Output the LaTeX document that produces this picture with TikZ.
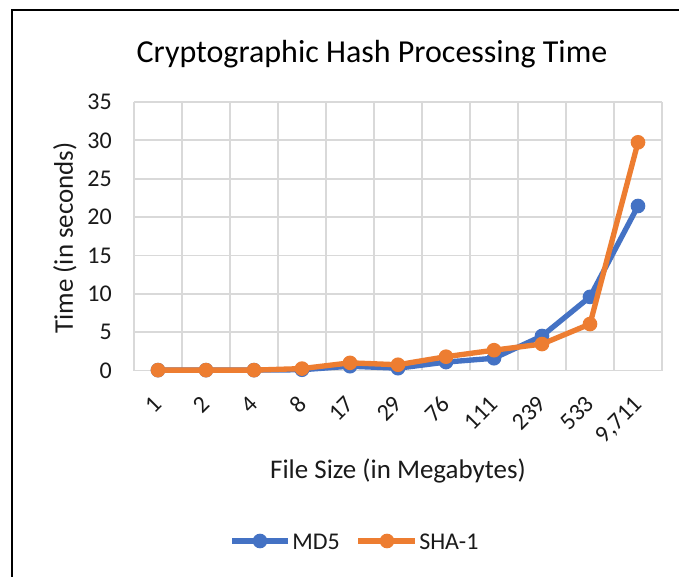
\documentclass[tikz,border=0pt]{standalone}
\usepackage{fontspec}
\setmainfont{Carlito}
\definecolor{mdblue}{HTML}{4472C4}
\definecolor{shaorange}{HTML}{ED7D31}
\definecolor{gridgray}{HTML}{D9D9D9}
\definecolor{inkgray}{HTML}{1A1A1A}
\tikzset{
  gridline/.style={draw=gridgray, line width=1.4pt},
  seriesline/.style={line width=4pt, line join=round, line cap=round},
  marker/.style={circle, inner sep=0pt, minimum size=11pt},
  ticklabel/.style={font=\fontsize{18}{18}\selectfont, text=inkgray, inner sep=0pt, text depth=0pt},
  axistitle/.style={font=\fontsize{20.2}{21}\selectfont, text=inkgray, inner sep=0pt},
  charttitle/.style={font=\fontsize{24}{26}\selectfont, text=black, inner sep=0pt},
  legendtext/.style={font=\fontsize{18}{18}\selectfont, text=inkgray, inner sep=0pt, anchor=west}
}
\begin{document}
\begin{tikzpicture}[x=0.75pt, y=-0.75pt]
  \useasboundingbox (0,0) rectangle (679,576);
  \clip (0,0) rectangle (679,576);
  \fill[white] (0,0) rectangle (679,576);
  % chart frame (runs past the right and bottom edges)
  \draw[line width=1.6pt] (12,10) rectangle (720,620);

  % title
  \node[charttitle] (title) at (372,54) {Cryptographic Hash Processing Time};

  % plot area grid: 11 categories of 48 units, 7 bands of 5 s
  \foreach \i in {0,...,11}
    \draw[gridline] (134+48*\i,102) -- (134+48*\i,370.5);
  \foreach \j in {0,...,7}
    \draw[gridline] (134,370.5-38.35*\j) -- (662,370.5-38.35*\j);

  % value axis labels
  \foreach \j in {0,...,7}
    \node[ticklabel, anchor=east] (yl\j) at (112,370.5-38.35*\j) {\pgfmathparse{int(5*\j)}\pgfmathresult};

  % category axis labels
  \foreach \lab [count=\k] in {1,2,4,8,17,29,76,111,239,533,{9,711}}
    \node[ticklabel, rotate=45, anchor=east] (xl\k) at (110+48*\k,400) {\lab};

  % axis titles
  \node[axistitle, rotate=90] (ytitle) at (65,238) {Time (in seconds)};
  \node[axistitle] (xtitle) at (398,471) {File Size (in Megabytes)};

  % MD5 series
  \foreach \v [count=\k] in {0.05,0.05,0.05,0.1,0.56,0.3,1.1,1.6,4.5,9.6,21.45}
    \node[marker, fill=mdblue] (m\k) at (110+48*\k,370.5-7.67*\v) {};
  \draw[seriesline, mdblue] (m1.center) -- (m2.center) -- (m3.center) -- (m4.center)
    -- (m5.center) -- (m6.center) -- (m7.center) -- (m8.center) -- (m9.center)
    -- (m10.center) -- (m11.center);

  % SHA-1 series
  \foreach \v [count=\k] in {0.05,0.05,0.05,0.25,1.0,0.75,1.8,2.65,3.45,6.06,29.75}
    \node[marker, fill=shaorange] (s\k) at (110+48*\k,370.5-7.67*\v) {};
  \draw[seriesline, shaorange] (s1.center) -- (s2.center) -- (s3.center) -- (s4.center)
    -- (s5.center) -- (s6.center) -- (s7.center) -- (s8.center) -- (s9.center)
    -- (s10.center) -- (s11.center);

  % legend
  \coordinate (lma) at (232,541);
  \coordinate (lmb) at (288,541);
  \draw[seriesline, mdblue, line cap=butt] (lma) -- (lmb);
  \node[marker, fill=mdblue] (lmd) at (260,541) {};
  \node[legendtext] (lmdtext) at (292,542) {MD5};
  \coordinate (lsa) at (358,541);
  \coordinate (lsb) at (415,541);
  \draw[seriesline, shaorange, line cap=butt] (lsa) -- (lsb);
  \node[marker, fill=shaorange] (lsh) at (387,541) {};
  \node[legendtext] (lshtext) at (419,542) {SHA-1};
\end{tikzpicture}
\end{document}
